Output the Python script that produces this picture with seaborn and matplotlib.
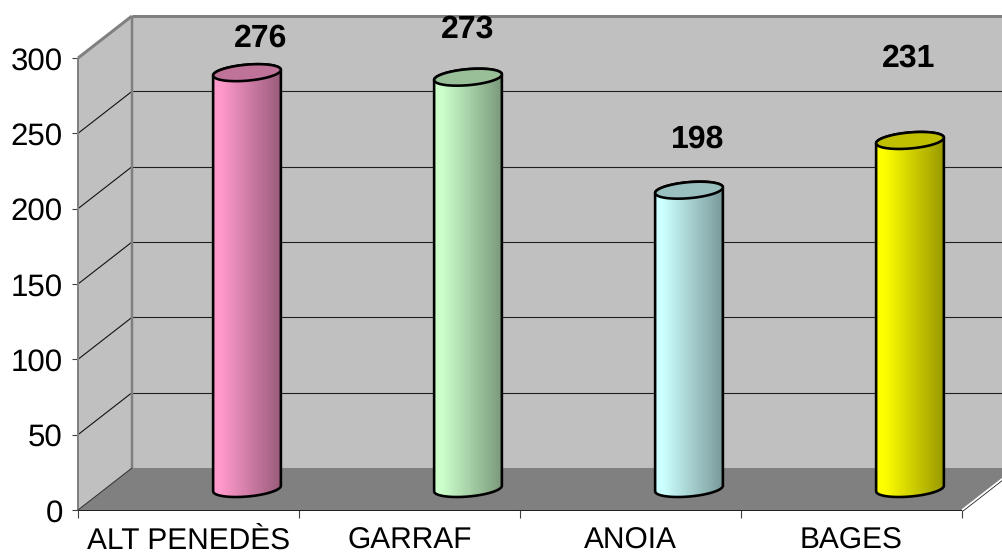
import numpy as np
import matplotlib
matplotlib.use("Agg")
import matplotlib.pyplot as plt
import seaborn as sns
from matplotlib.colors import to_rgb
from matplotlib.patches import PathPatch, Polygon
from matplotlib.path import Path
from matplotlib.transforms import IdentityTransform

regions = ["ALT PENEDÈS", "GARRAF", "ANOIA", "BAGES"]
counts = [276, 273, 198, 231]
bar_colors = ["#FF99CC", "#CCFFCC", "#CCFFFF", "#FFFF00"]
y_ticks = [0, 50, 100, 150, 200, 250, 300]

# pixel offsets of the value labels from the bar tops, the source chart placed them by hand
label_offsets = [(14, 34), (0, 48), (9, 51), (-1, 82)]

W, H = 1003, 554
DEPTH = (54, 42)
BAR_SHIFT = (58.5, 21.5)
px = IdentityTransform()

sns.set_style("white")
plt.rcParams["font.family"] = ["Liberation Sans", "DejaVu Sans"]
plt.rcParams["text.hinting"] = "none"

fig = plt.figure(figsize=(W / 100, H / 100), dpi=100)
ax = fig.add_axes([78 / W, (H - 510) / H, 884 / W, 452 / H])
ax.patch.set_alpha(0)

sns.barplot(x=regions, y=counts, hue=regions, palette=bar_colors, width=68 / 221,
            saturation=1, legend=False, ax=ax)
bars = list(ax.patches)
ax.set_xlim(-0.5, len(regions) - 0.5)
ax.set_ylim(0, y_ticks[-1])
ax.autoscale(False)
sns.despine(ax=ax, left=True, bottom=True)


def to_px(x, y, depth=0.0):
    p = ax.transData.transform((x, y))
    return p[0] + DEPTH[0] * depth, p[1] + DEPTH[1] * depth


def line(a, b, color, width, z=1.0):
    ax.plot([a[0], b[0]], [a[1], b[1]], color=color, lw=width * 0.72, transform=px,
            clip_on=False, zorder=z, solid_capstyle="butt")


x0, x1 = ax.get_xlim()
top = y_ticks[-1]

# walls and floor
wall = "#C0C0C0"
edge = "#808080"
ax.add_patch(Polygon([to_px(x0, 0), to_px(x0, top), to_px(x0, top, 1), to_px(x0, 0, 1)],
                     fc=wall, ec="none", transform=px, zorder=0.5, clip_on=False))
ax.add_patch(Polygon([to_px(x0, 0, 1), to_px(x0, top, 1), to_px(x1, top, 1), to_px(x1, 0, 1)],
                     fc=wall, ec="none", transform=px, zorder=0.5, clip_on=False))
ax.add_patch(Polygon([to_px(x0, 0), to_px(x0, 0, 1), to_px(x1, 0, 1), to_px(x1, 0)],
                     fc=edge, ec="none", transform=px, zorder=0.6, clip_on=False))

for v in y_ticks[1:-1]:
    line(to_px(x0, v), to_px(x0, v, 1), "#101010", 1.1, 0.8)
    line(to_px(x0, v, 1), to_px(x1, v, 1), "#202020", 1.1, 0.8)

line(to_px(x0, 0), to_px(x0, top), edge, 2)
line(to_px(x0, 0, 1), to_px(x0, top, 1), edge, 2.5)
line(to_px(x0, top, 1), to_px(x1, top, 1), edge, 3)
line(to_px(x0, top), to_px(x0, top, 1), edge, 3)
line(to_px(x0, 0), to_px(x0, 0, 1), "#303030", 1)
line(to_px(x0, 0), to_px(x1, 0), "#202020", 1)
right_a, right_b = to_px(x1, 0), to_px(x1, 0, 1)
line((right_a[0] + 1, right_a[1] - 1), (right_b[0] + 1, right_b[1] - 1), "#303030", 1)
line(right_a, right_b, "#FFFFFF", 1.6)


def ellipse_pts(cx, cy, t0, t1, a=34.0, b=8.0, tilt=np.radians(5)):
    t = np.radians(np.linspace(t0, t1, 60))
    xs = cx + a * np.cos(t) * np.cos(tilt) - b * np.sin(t) * np.sin(tilt)
    ys = cy + a * np.cos(t) * np.sin(tilt) + b * np.sin(t) * np.cos(tilt)
    return np.column_stack([xs, ys])


# cylinders built on the seaborn bars
shade = np.interp(np.linspace(0, 1, 256), [0, 0.12, 1], [1, 1, 0.6])
for i, bar in enumerate(bars):
    mid = bar.get_x() + bar.get_width() / 2
    base = to_px(mid, 0)
    head = to_px(mid, bar.get_height())
    base = (base[0] + BAR_SHIFT[0], base[1] + BAR_SHIFT[1])
    head = (head[0] + BAR_SHIFT[0], head[1] + BAR_SHIFT[1])
    rgb = np.array(to_rgb(bar_colors[i]))
    bar.set_visible(False)

    outline = np.vstack([ellipse_pts(*base, 180, 360), ellipse_pts(*head, 0, 180)])
    body = PathPatch(Path(np.vstack([outline, outline[:1]])), fc="none", ec="black",
                     lw=2.6 * 0.72, transform=px, zorder=3, clip_on=False)
    ax.add_patch(body)
    img = ax.imshow(shade[None, :, None] * rgb[None, None, :], aspect="auto",
                    extent=(head[0] - 34, head[0] + 34, base[1] - 12, head[1] + 12),
                    transform=px, zorder=2, interpolation="bilinear")
    img.set_clip_path(body)

    cap = ellipse_pts(*head, 0, 360)
    ax.add_patch(Polygon(cap, fc=rgb * 0.75, ec="black", lw=2.6 * 0.72,
                         transform=px, zorder=4, clip_on=False))

    dx, dy = label_offsets[i]
    ax.annotate(str(counts[i]), xy=head, xycoords=px, xytext=(dx, dy),
                textcoords="offset pixels", ha="center", va="center",
                fontsize=23, fontweight="bold", color="black", zorder=5)

ax.set_xlim(x0, x1)
ax.set_ylim(0, top)

# axes
ax.set_yticks(y_ticks)
ax.set_xticks(range(len(regions)))
ax.set_xticklabels(regions)
ax.set_xticks(np.arange(len(regions) + 1) - 0.5, minor=True)
ax.tick_params(axis="y", which="major", left=True, length=4.5, width=0.8, color="#404040",
               labelsize=22.5, pad=6.5, labelcolor="black")
ax.tick_params(axis="x", which="major", bottom=False, length=0, labelsize=21.5, pad=28,
               labelcolor="black")
ax.tick_params(axis="x", which="minor", bottom=True, length=5.5, width=0.8, color="#404040")
plt.setp(ax.get_xticklabels(), va="baseline")
ax.set_xlabel("")
ax.set_ylabel("")

fig.savefig("out.png", dpi=100, facecolor="white")
